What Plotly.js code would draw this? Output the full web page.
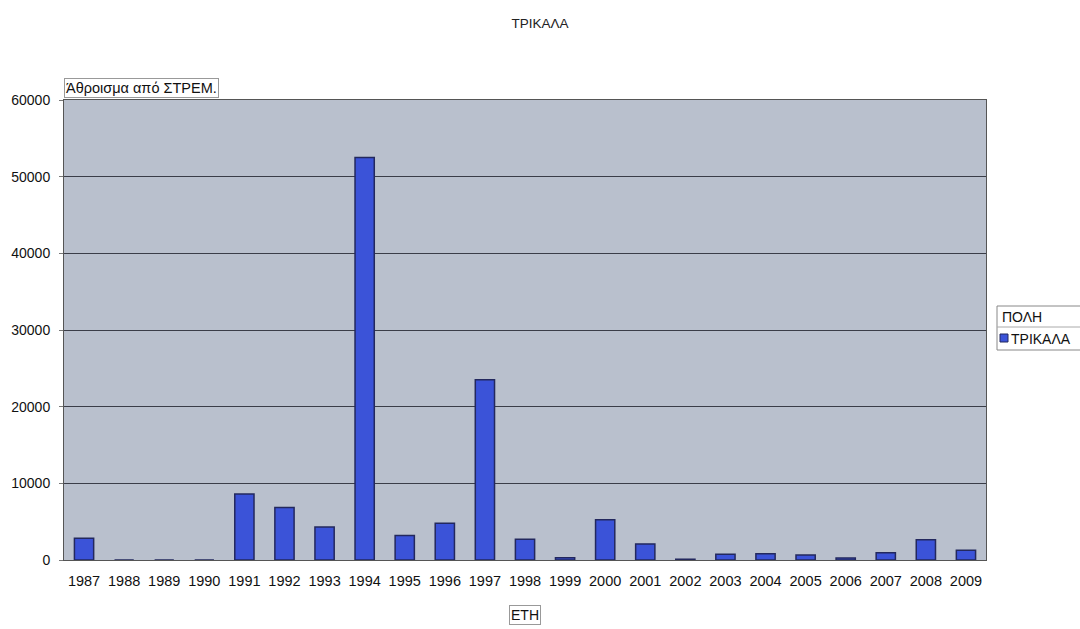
<!DOCTYPE html>
<html>
<head>
<meta charset="utf-8">
<script src="https://cdn.plot.ly/plotly-3.0.1.min.js"></script>
<style>
  html, body { margin: 0; padding: 0; background: #ffffff; }
  #chart { width: 1080px; height: 629px; }
</style>
</head>
<body>
<div id="chart"></div>
<script>
const years = ["1987","1988","1989","1990","1991","1992","1993","1994","1995","1996","1997","1998","1999","2000","2001","2002","2003","2004","2005","2006","2007","2008","2009"];
const stremValues = [2850, 0, 0, 0, 8600, 6850, 4300, 52500, 3200, 4800, 23500, 2700, 300, 5250, 2100, 100, 750, 830, 650, 260, 960, 2650, 1270];
const yTicks = [0, 10000, 20000, 30000, 40000, 50000, 60000];
const seriesName = "ΤΡΙΚΑΛΑ";
const chartTitle = "ΤΡΙΚΑΛΑ";
const legendTitle = "ΠΟΛΗ";
const yTitle = "Άθροισμα από ΣΤΡΕΜ.";
const xTitle = "ΕΤΗ";

const font = "Liberation Sans, Arial, sans-serif";
const barColor = "#3b53d8";
const barEdge = "#23285e";

// plot area in pixels
const L = 64, R = 986, T = 100, B = 560;
const px = v => (v - L) / (R - L);
const py = v => (B - v) / (B - T);

const trace = {
  type: "bar",
  x: years,
  y: stremValues,
  name: seriesName,
  showlegend: false,
  marker: { color: barColor, line: { color: barEdge, width: 1.5 } }
};

const layout = {
  width: 1080,
  height: 629,
  paper_bgcolor: "#ffffff",
  plot_bgcolor: "#b9c0cd",
  margin: { l: L, r: 1080 - R, t: T, b: 629 - B },
  bargap: 0.52,
  showlegend: false,
  title: { text: chartTitle, x: 0.5, xanchor: "center", y: 0.963, yanchor: "middle", font: { family: font, size: 13.5, color: "#222" } },
  font: { family: font, size: 14, color: "#111" },
  xaxis: {
    type: "category",
    tickfont: { family: font, size: 14.5, color: "#111" },
    showgrid: false,
    showline: true, linecolor: "#555", linewidth: 1, mirror: true,
    ticks: "", ticklen: 0,
    ticklabelstandoff: 8
  },
  yaxis: {
    range: [0, 60000],
    tickvals: yTicks,
    ticktext: yTicks.map(String),
    tickfont: { family: font, size: 14, color: "#111" },
    showgrid: true, gridcolor: "#3a3d48", gridwidth: 1,
    zeroline: false,
    showline: true, linecolor: "#555", linewidth: 1, mirror: true,
    ticks: "outside", ticklen: 4, tickcolor: "#777",
    ticklabelstandoff: 6
  },
  shapes: [
    // legend box
    { type: "rect", xref: "paper", yref: "paper", x0: px(997), x1: px(1090), y0: py(350), y1: py(306),
      line: { color: "#888", width: 1 }, fillcolor: "#ffffff", layer: "above" },
    { type: "line", xref: "paper", yref: "paper", x0: px(997), x1: px(1090), y0: py(327), y1: py(327),
      line: { color: "#aaa", width: 1 }, layer: "above" },
    // legend swatch
    { type: "rect", xref: "paper", yref: "paper", x0: px(1000), x1: px(1008), y0: py(342), y1: py(334),
      line: { color: barEdge, width: 1 }, fillcolor: barColor, layer: "above" }
  ],
  annotations: [
    {
      text: yTitle, xref: "paper", yref: "paper", x: 0, y: 1, xanchor: "left", yanchor: "bottom",
      yshift: 2, showarrow: false, font: { family: font, size: 14.5, color: "#111" },
      bordercolor: "#999", borderwidth: 1, borderpad: 1, bgcolor: "#ffffff"
    },
    {
      text: xTitle, xref: "paper", yref: "paper", x: 0.5, y: 0, xanchor: "center", yanchor: "middle",
      yshift: -55, showarrow: false, font: { family: font, size: 14, color: "#111" },
      bordercolor: "#999", borderwidth: 1, borderpad: 1, bgcolor: "#ffffff"
    },
    {
      text: legendTitle, xref: "paper", yref: "paper", x: px(1000), y: py(317), xanchor: "left", yanchor: "middle",
      showarrow: false, font: { family: font, size: 14, color: "#111" }
    },
    {
      text: seriesName, xref: "paper", yref: "paper", x: px(1009), y: py(338.5), xanchor: "left", yanchor: "middle",
      showarrow: false, font: { family: font, size: 14, color: "#111" }
    }
  ]
};

Plotly.newPlot("chart", [trace], layout, { displayModeBar: false, staticPlot: true });
</script>
</body>
</html>
